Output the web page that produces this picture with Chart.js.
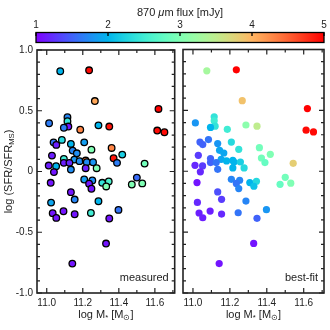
<!DOCTYPE html>
<html>
<head>
<meta charset="utf-8">
<script src="https://cdn.jsdelivr.net/npm/chart.js@4"></script>
<style>
  html, body { margin: 0; padding: 0; background: #fff; }
  #wrap { position: relative; width: 330px; height: 330px; overflow: hidden; }
  canvas { position: absolute; }
</style>
</head>
<body>
<div id="wrap">
  <canvas id="cbar" width="330" height="46" style="left:0px;top:0px"></canvas>
  <canvas id="measured" width="180" height="290" style="left:0px;top:40px"></canvas>
  <canvas id="bestfit" width="152" height="290" style="left:178px;top:40px"></canvas>
</div>
<script>
// stellar mass, SFR offset from main sequence, 870um flux (measured / best-fit)
const logMass = [
  11.075, 11.235, 11.267, 11.013, 11.115, 11.115, 11.12, 11.095, 11.186, 11.287, 11.347, 11.62, 11.613, 11.653,
  11.038, 11.053, 11.084, 11.134, 11.208, 11.248, 11.36, 11.144, 11.167, 11.029, 11.095, 11.153, 11.182, 11.216,
  11.222, 11.257, 11.371, 11.39, 11.419, 11.011, 11.052, 11.095, 11.126, 11.216, 11.277, 11.134, 11.04, 11.022,
  11.208, 11.253, 11.235, 11.248, 11.308, 11.344, 11.33, 11.134, 11.5, 11.472, 11.53, 11.543,
  11.024, 11.155, 11.287, 11.033, 11.053, 11.093, 11.155, 11.245, 11.398, 11.347, 11.329, 11.142
];
const logSfrRatio = [
  0.825, 0.833, 0.58, 0.397, 0.447, 0.414, 0.37, 0.36, 0.344, 0.38, 0.37, 0.515, 0.337, 0.323,
  0.24, 0.219, 0.26, 0.227, 0.24, 0.18, 0.194, 0.172, 0.15, 0.131, 0.104, 0.098, 0.085, 0.09,
  0.076, 0.076, 0.109, 0.071, 0.139, 0.049, 0.044, 0.071, 0.071, 0.027, 0.027, 0.016, -0.005, -0.093,
  -0.066, -0.074, -0.1, -0.142, -0.093, -0.082, -0.123, -0.17, -0.05, -0.107, -0.098, 0.065,
  -0.256, -0.231, -0.245, -0.343, -0.382, -0.327, -0.352, -0.341, -0.316, -0.387, -0.593, -0.758
];
const fluxMeasured = [
  2.0, 4.95, 4.1, 1.65, 1.7, 2.4, 1.1, 1.65, 4.3, 2.0, 4.9, 5.0, 4.95, 4.95,
  1.6, 1.15, 2.3, 2.0, 1.85, 3.0, 4.3, 1.7, 1.75, 1.15, 2.5, 1.8, 1.75, 4.3,
  1.75, 1.8, 4.9, 1.65, 2.2, 1.15, 2.0, 1.15, 1.2, 1.15, 3.0, 1.75, 1.1, 1.1,
  1.85, 1.75, 1.1, 1.1, 2.4, 2.6, 3.0, 1.1, 1.55, 3.0, 3.0, 2.9,
  1.9, 1.7, 2.0, 1.1, 1.1, 1.1, 1.1, 2.5, 1.6, 1.1, 1.1, 1.1
];
const fluxBestFit = [
  3.3, 5.0, 3.9, 1.8, 2.4, 2.5, 2.4, 2.0, 2.5, 3.1, 3.5, 5.0, 4.95, 4.95,
  1.5, 1.5, 1.6, 1.8, 2.3, 2.4, 2.9, 1.9, 1.9, 1.3, 1.5, 1.9, 2.0, 2.0,
  2.0, 2.2, 2.9, 2.8, 3.0, 1.2, 1.3, 1.5, 1.6, 2.0, 2.3, 1.6, 1.2, 1.1,
  1.7, 1.7, 1.6, 1.7, 2.0, 2.3, 2.1, 1.4, 2.9, 2.8, 3.0, 3.8,
  1.2, 1.3, 1.7, 1.15, 1.15, 1.15, 1.2, 1.6, 1.8, 1.5, 1.1, 1.1
];
const massTicks = [11.0, 11.2, 11.4, 11.6];
const ratioTicks = [-1.0, -0.5, 0, 0.5, 1.0];
const fluxTicks = [1, 2, 3, 4, 5];

const FONT = '"Liberation Sans", Arial, sans-serif';
const INK = '#222';

// matplotlib "rainbow" colormap, flux 1..5
function rainbow(f) {
  const t = Math.min(1, Math.max(0, (f - 1) / 4));
  const r = Math.min(1, Math.abs(2 * t - 0.5));
  const g = Math.sin(Math.PI * t);
  const b = Math.cos(Math.PI * t / 2);
  return 'rgb(' + Math.round(r * 255) + ',' + Math.round(g * 255) + ',' + Math.round(b * 255) + ')';
}

// text with italic / subscript pieces
function drawRich(ctx, parts, x, y, size, align) {
  const font = k => (k === 'i' ? 'italic ' : '') + (k === 's' ? size * 0.7 : size) + 'px ' + FONT;
  let w = 0;
  parts.forEach(([t, k]) => { ctx.font = font(k); w += ctx.measureText(t).width; });
  let cx = align === 'center' ? x - w / 2 : align === 'right' ? x - w : x;
  ctx.textAlign = 'left';
  ctx.textBaseline = 'middle';
  ctx.fillStyle = INK;
  parts.forEach(([t, k]) => {
    ctx.font = font(k);
    ctx.fillText(t, cx, k === 's' ? y + size * 0.3 : y);
    cx += ctx.measureText(t).width;
  });
}

const panelDeco = {
  id: 'panelDeco',
  afterDraw(chart, args, opts) {
    const ctx = chart.ctx, a = chart.chartArea;
    const xs = chart.scales.x, ys = chart.scales.y;
    ctx.save();
    ctx.strokeStyle = INK;
    ctx.lineWidth = 1.2;
    ctx.beginPath();
    for (let i = 0; i <= 20; i++) {
      const v = -1 + i * 0.1;
      const py = ys.getPixelForValue(v);
      const len = i % 5 === 0 ? 5 : 3;
      ctx.moveTo(a.left, py); ctx.lineTo(a.left + len, py);
      ctx.moveTo(a.right, py); ctx.lineTo(a.right - len, py);
    }
    for (let i = 0; i <= 7; i++) {
      const v = 11.0 + i * 0.1;
      const px = xs.getPixelForValue(v);
      if (px > a.right - 1) continue;
      const len = i % 2 === 0 ? 5 : 3;
      ctx.moveTo(px, a.bottom); ctx.lineTo(px, a.bottom - len);
      ctx.moveTo(px, a.top); ctx.lineTo(px, a.top + len);
    }
    ctx.stroke();
    ctx.lineWidth = 1.6;
    ctx.strokeRect(a.left, a.top, a.right - a.left, a.bottom - a.top);

    drawRich(ctx, [[opts.label, 'n']], a.right - 6, a.bottom - 15, 11, 'right');
    drawRich(ctx, [['log M', 'n'], ['*', 's'], [' [M', 'n'], ['\u2299', 's'], [']', 'n']],
      (a.left + a.right) / 2, a.bottom + 22, 11, 'center');
    if (opts.yTitle) {
      ctx.save();
      ctx.translate(9, (a.top + a.bottom) / 2);
      ctx.rotate(-Math.PI / 2);
      drawRich(ctx, [['log (SFR/SFR', 'n'], ['MS', 's'], [')', 'n']], 0, 0, 11, 'center');
      ctx.restore();
    }
    ctx.restore();
  }
};

function panel(id, flux, withBorder, label, showY) {
  const pts = logMass.map((x, i) => ({ x: x, y: logSfrRatio[i] }));
  return new Chart(document.getElementById(id), {
    type: 'scatter',
    data: {
      datasets: [{
        data: pts,
        pointBackgroundColor: flux.map(rainbow),
        pointBorderColor: withBorder ? '#000' : 'rgba(0,0,0,0)',
        pointBorderWidth: withBorder ? 1.3 : 0,
        pointRadius: withBorder ? 3.3 : 3.6
      }]
    },
    options: {
      responsive: false,
      animation: false,
      layout: { padding: showY ? { top: 9.5, right: 3, left: 0, bottom: 0 } : { top: 9.5, right: 6, left: 5, bottom: 0 } },
      plugins: { legend: { display: false }, tooltip: { enabled: false }, panelDeco: { label: label, yTitle: showY } },
      scales: {
        x: {
          type: 'linear', min: 10.946, max: 11.71,
          afterBuildTicks: s => { s.ticks = massTicks.map(v => ({ value: v })); },
          afterFit: s => { s.height = 37; },
          grid: { display: false, drawTicks: false },
          border: { display: false },
          ticks: { font: { family: FONT, size: 10 }, color: INK, padding: 4, maxRotation: 0, autoSkip: false,
                   callback: v => v.toFixed(1) }
        },
        y: {
          display: showY, min: -1, max: 1,
          afterBuildTicks: s => { s.ticks = ratioTicks.map(v => ({ value: v })); },
          afterFit: s => { s.width = showY ? 37 : 0; },
          grid: { display: false, drawTicks: false },
          border: { display: false },
          ticks: { font: { family: FONT, size: 10 }, color: INK, padding: 4,
                   callback: v => (v === 0 ? '0' : v.toFixed(1)) }
        }
      }
    },
    plugins: [panelDeco]
  });
}

const colorBar = {
  id: 'colorBar',
  afterDraw(chart) {
    const ctx = chart.ctx, a = chart.chartArea, xs = chart.scales.x;
    const grad = ctx.createLinearGradient(a.left, 0, a.right, 0);
    for (let i = 0; i <= 40; i++) grad.addColorStop(i / 40, rainbow(1 + 4 * i / 40));
    ctx.save();
    ctx.fillStyle = grad;
    ctx.fillRect(a.left, a.top, a.right - a.left, a.bottom - a.top);
    ctx.strokeStyle = '#000';
    ctx.lineWidth = 1.3;
    ctx.strokeRect(a.left, a.top, a.right - a.left, a.bottom - a.top);
    ctx.beginPath();
    fluxTicks.forEach(v => {
      const px = xs.getPixelForValue(v);
      ctx.moveTo(px, a.top); ctx.lineTo(px, a.top + 3.5);
    });
    ctx.stroke();
    drawRich(ctx, [['870 ', 'n'], ['\u03bc', 'i'], ['m flux [mJy]', 'n']], (a.left + a.right) / 2, 13, 11, 'center');
    ctx.restore();
  }
};

new Chart(document.getElementById('cbar'), {
  type: 'scatter',
  data: { datasets: [{ data: [] }] },
  options: {
    responsive: false,
    animation: false,
    layout: { padding: { left: 36, right: 6, bottom: 3.5, top: 0 } },
    plugins: { legend: { display: false }, tooltip: { enabled: false } },
    scales: {
      x: {
        type: 'linear', position: 'top', min: 1, max: 5,
        afterBuildTicks: s => { s.ticks = fluxTicks.map(v => ({ value: v })); },
        afterFit: s => { s.height = 32.5; },
        grid: { display: false, drawTicks: false },
        border: { display: false },
        ticks: { font: { family: FONT, size: 10 }, color: INK, padding: 1.5, maxRotation: 0, autoSkip: false }
      },
      y: { display: false, min: 0, max: 1 }
    }
  },
  plugins: [colorBar]
});

panel('measured', fluxMeasured, true, 'measured', true);
panel('bestfit', fluxBestFit, false, 'best-fit', false);
</script>
</body>
</html>
